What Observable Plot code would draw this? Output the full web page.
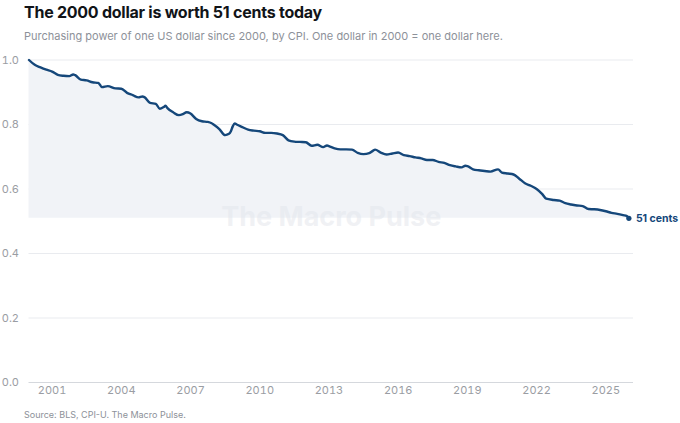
<!DOCTYPE html>
<html>
<head>
<meta charset="utf-8">
<script src="https://cdn.jsdelivr.net/npm/d3@7"></script>
<script src="https://cdn.jsdelivr.net/npm/@observablehq/plot@0.6"></script>
<style>
  html, body { margin: 0; padding: 0; background: #fff; }
  body { width: 680px; height: 423px; overflow: hidden; font-family: Inter, "Noto Sans", sans-serif; }
  #title { font-size: 16px; font-weight: 700; color: #111418; line-height: 24px; height: 24px; padding-left: 24px; letter-spacing: -0.25px; }
  #subtitle { font-size: 11px; color: #8d9199; line-height: 20px; height: 22px; padding-left: 24px; margin-top: 2px; }
  #source { font-size: 9px; color: #8d9199; line-height: 12px; padding-left: 24px; margin-top: 5px; }
  svg { display: block; overflow: visible; }
</style>
</head>
<body>
<div id="title">The 2000 dollar is worth 51 cents today</div>
<div id="subtitle">Purchasing power of one US dollar since 2000, by CPI. One dollar in 2000 = one dollar here.</div>
<div id="chart"></div>
<div id="source">Source: BLS, CPI-U. The Macro Pulse.</div>
<script>
const months = [
  "2000-01","2000-04","2000-07","2000-10",
  "2001-01","2001-04","2001-07","2001-10","2001-12",
  "2002-01","2002-04","2002-07","2002-10",
  "2003-01","2003-03","2003-06","2003-10",
  "2004-01","2004-04","2004-07","2004-10","2004-12",
  "2005-01","2005-04","2005-07","2005-09","2005-11","2005-12",
  "2006-01","2006-04","2006-07","2006-09","2006-11",
  "2007-01","2007-04","2007-07","2007-10","2007-12",
  "2008-01","2008-04","2008-07","2008-09","2008-10","2008-11","2008-12",
  "2009-01","2009-04","2009-07","2009-10",
  "2010-01","2010-04","2010-07","2010-10",
  "2011-01","2011-04","2011-07","2011-10",
  "2012-01","2012-04","2012-07","2012-10","2012-12",
  "2013-01","2013-04","2013-07","2013-10",
  "2014-01","2014-04","2014-07","2014-10","2014-12",
  "2015-01","2015-04","2015-07","2015-10",
  "2016-01","2016-04","2016-07","2016-10",
  "2017-01","2017-04","2017-07","2017-10",
  "2018-01","2018-04","2018-07","2018-10","2018-12",
  "2019-01","2019-04","2019-07","2019-10",
  "2020-01","2020-05","2020-07","2020-10",
  "2021-01","2021-04","2021-07","2021-10",
  "2022-01","2022-04","2022-06","2022-10",
  "2023-01","2023-04","2023-07","2023-10",
  "2024-01","2024-04","2024-07","2024-10",
  "2025-01","2025-04","2025-07","2025-10","2025-12",
  "2026-01"
];
const values = [
  1.000,0.985,0.977,0.970,
  0.964,0.954,0.951,0.950,0.955,
  0.953,0.939,0.937,0.931,
  0.929,0.916,0.919,0.912,
  0.911,0.898,0.891,0.884,0.887,
  0.885,0.867,0.864,0.849,0.854,0.858,
  0.851,0.838,0.829,0.832,0.838,
  0.834,0.817,0.810,0.808,0.804,
  0.800,0.786,0.767,0.771,0.779,0.795,0.803,
  0.800,0.792,0.784,0.781,
  0.779,0.774,0.774,0.772,
  0.767,0.751,0.747,0.746,
  0.745,0.734,0.737,0.730,0.735,
  0.733,0.726,0.723,0.723,
  0.722,0.712,0.708,0.711,0.719,
  0.722,0.713,0.707,0.710,
  0.713,0.705,0.702,0.698,
  0.695,0.690,0.690,0.684,
  0.681,0.674,0.670,0.667,0.672,
  0.671,0.661,0.658,0.656,
  0.654,0.661,0.651,0.648,
  0.645,0.632,0.618,0.610,
  0.600,0.584,0.570,0.566,
  0.564,0.556,0.552,0.549,
  0.547,0.538,0.537,0.535,
  0.531,0.526,0.523,0.519,0.516,
  0.509
];
const yTicks = [0, 0.2, 0.4, 0.6, 0.8, 1.0];
const xTickYears = [2001, 2004, 2007, 2010, 2013, 2016, 2019, 2022, 2025];
const endLabel = "51 cents";
const watermark = "The Macro Pulse";

const parse = d3.utcParse("%Y-%m");
const data = months.map((m, i) => ({date: parse(m), value: values[i]}));
const last = data[data.length - 1];
const floor = d3.min(values);
const xTicks = xTickYears.map(y => new Date(Date.UTC(y, 0, 1)));

const navy = "#15477a";

const chart = Plot.plot({
  width: 680,
  height: 356,
  marginTop: 11.5,
  marginBottom: 22,
  marginLeft: 28.5,
  marginRight: 47,
  style: {fontFamily: "Inter, 'Noto Sans', sans-serif", fontSize: "11px", color: "#9a9da3", background: "#fff", overflow: "visible"},
  x: {type: "utc", domain: [new Date(Date.UTC(2000, 0, 1)), new Date(Date.UTC(2026, 2, 15))], ticks: xTicks, tickFormat: d3.utcFormat("%Y"), tickSize: 0, tickPadding: 4, label: null},
  y: {domain: [0, 1], ticks: yTicks, tickFormat: d3.format(".1f"), tickSize: 0, tickPadding: 10, label: null},
  marks: [
    Plot.gridY(yTicks.filter(t => t > 0), {stroke: "#e9ebef", strokeOpacity: 1, strokeWidth: 1}),
    Plot.areaY(data, {x: "date", y1: floor, y2: "value", fill: "#f1f3f7"}),
    Plot.text([watermark], {frameAnchor: "middle", dy: -4, fontSize: 27, fontWeight: 700, fill: "#e3e6ec", fillOpacity: 0.55}),
    Plot.ruleY([0], {stroke: "#d5d8dd", strokeWidth: 1}),
    Plot.axisY({ticks: yTicks, tickFormat: d3.format(".1f"), tickSize: 0, tickPadding: 10, fill: "#9a9da3", fontSize: 11}),
    Plot.axisX({ticks: xTicks, tickFormat: d3.utcFormat("%Y"), tickSize: 0, tickPadding: 4, fill: "#9a9da3", fontSize: 11}),
    Plot.lineY(data, {x: "date", y: "value", stroke: navy, strokeWidth: 2.4, curve: "monotone-x"}),
    Plot.dot([last], {x: "date", y: "value", r: 2.6, fill: navy}),
    Plot.text([last], {x: "date", y: "value", text: () => endLabel, dx: 7, textAnchor: "start", fill: navy, fontWeight: 700, fontSize: 10.5, letterSpacing: "-0.2px"})
  ]
});
document.getElementById("chart").appendChild(chart);
</script>
</body>
</html>
